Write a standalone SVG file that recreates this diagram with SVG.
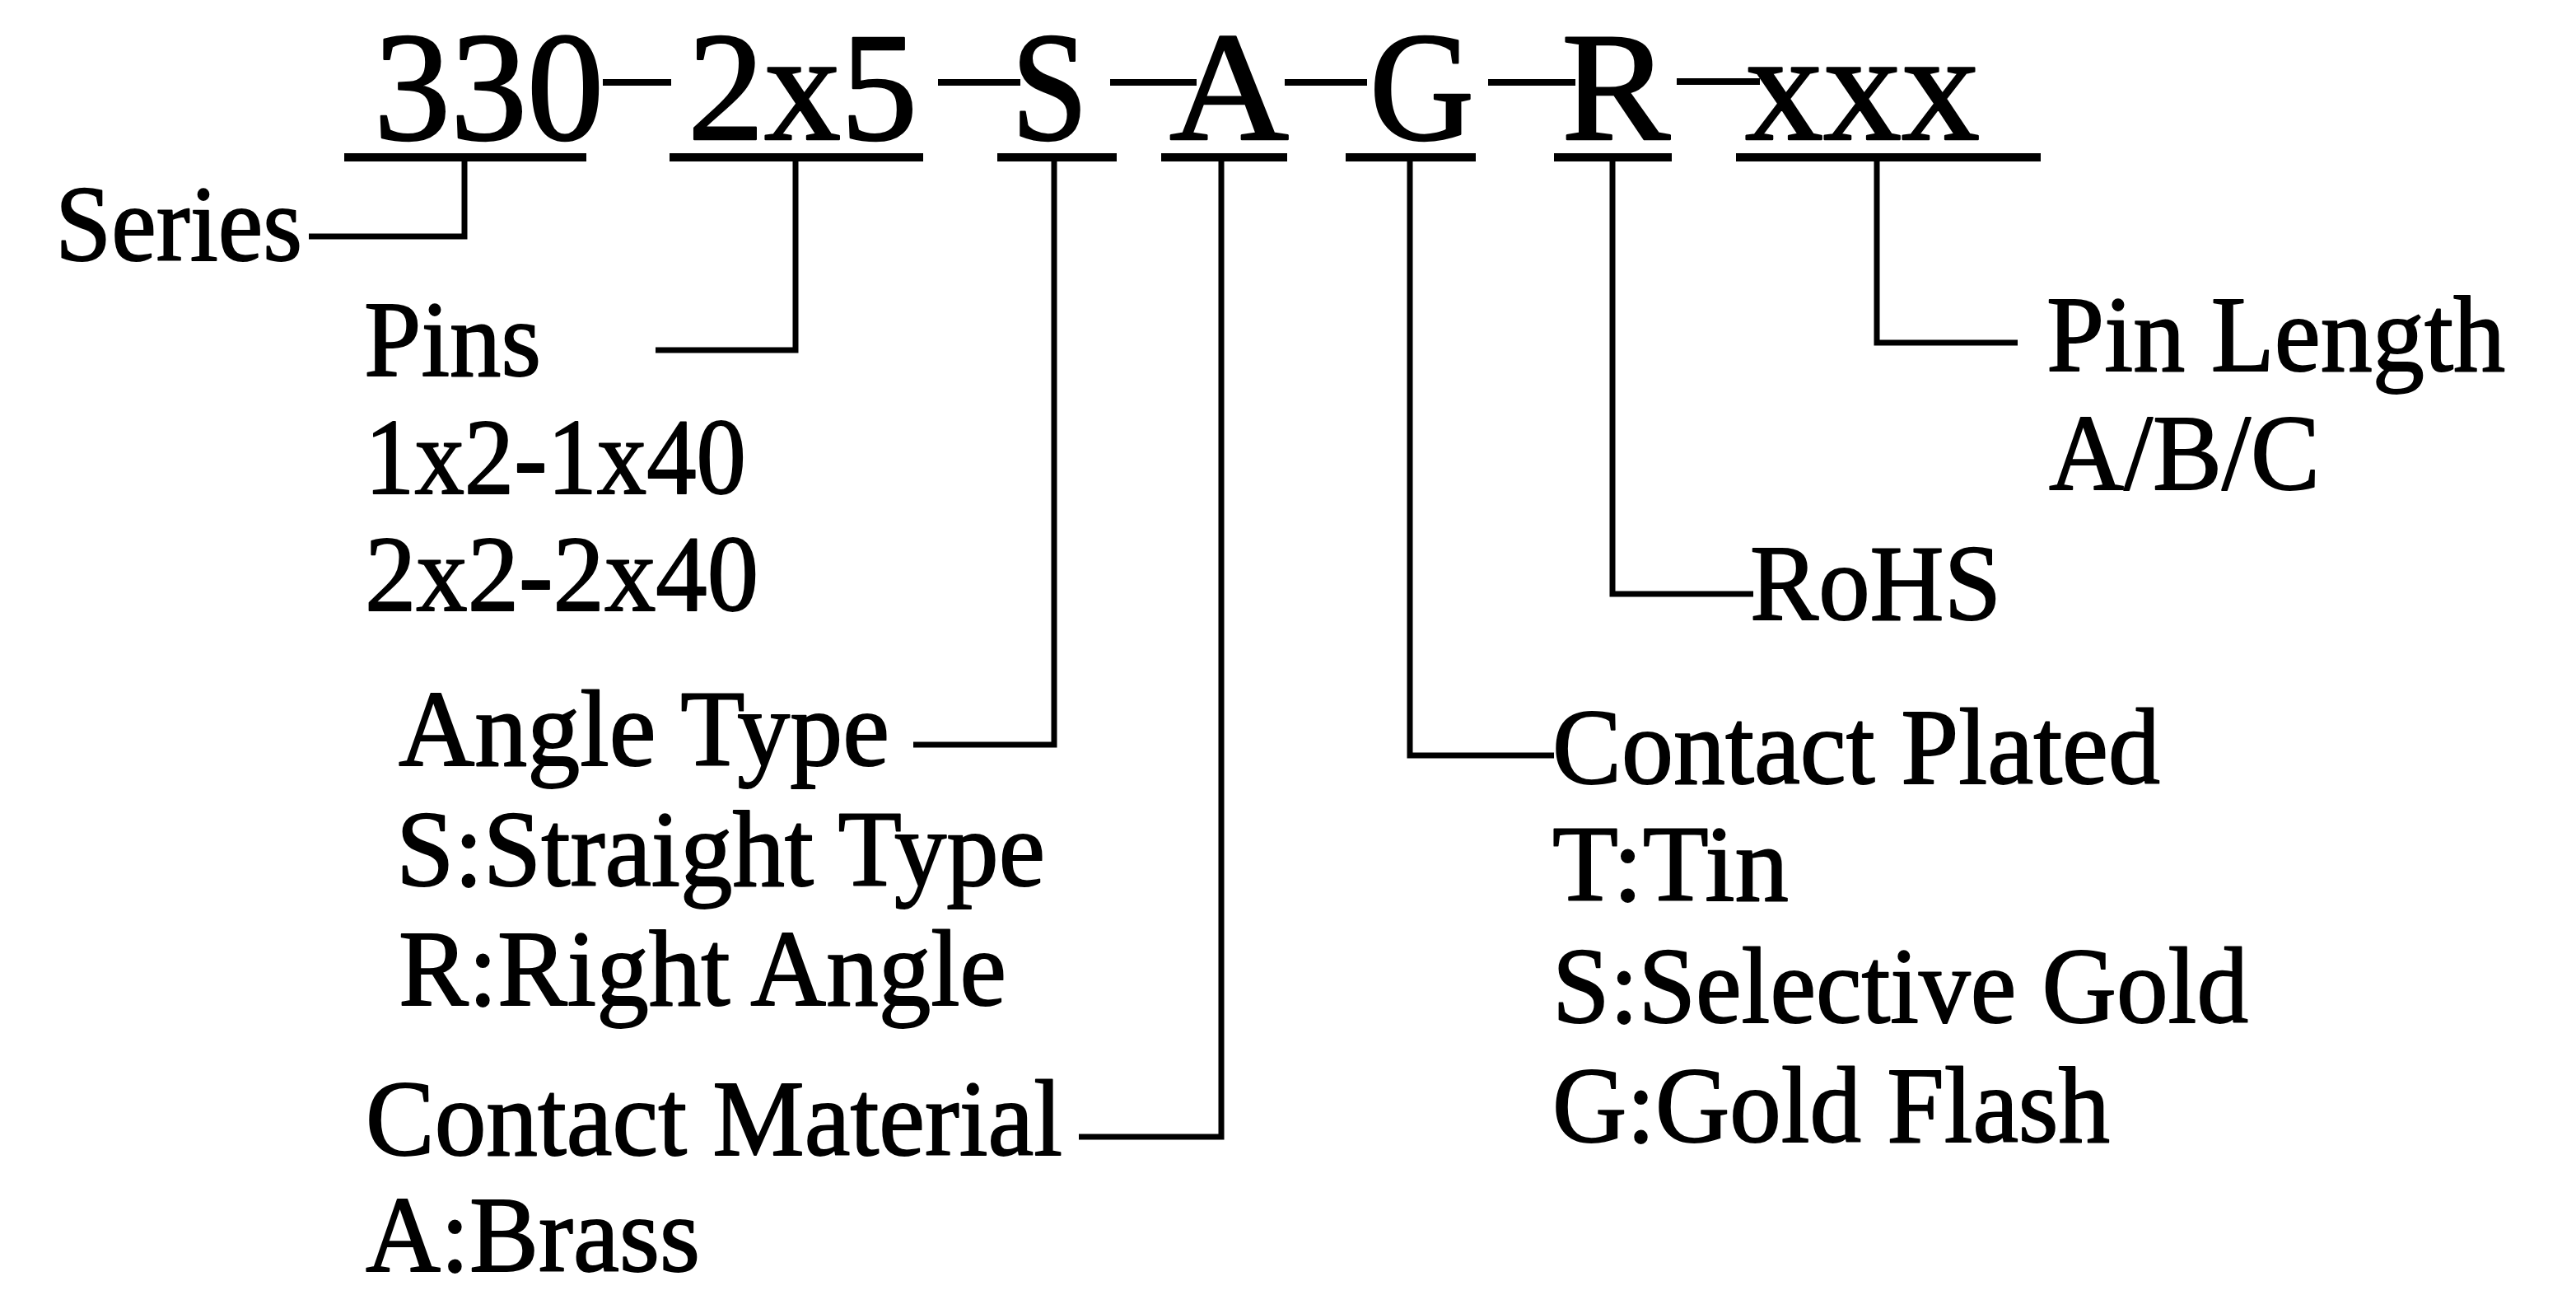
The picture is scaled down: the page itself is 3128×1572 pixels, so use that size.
<svg xmlns="http://www.w3.org/2000/svg" width="3128" height="1572" viewBox="0 0 3128 1572">
<style>
text{font-family:"Liberation Serif","Times New Roman",serif;fill:#000;stroke:#000;stroke-linejoin:round}
.code{font-size:189px;stroke-width:2.5}
.lbl{font-size:131px;stroke-width:1.8}
.ul{stroke:#000;stroke-width:10;fill:none}
.dash{stroke:#000;stroke-width:8;fill:none}
.con{stroke:#000;stroke-width:7;fill:none;stroke-linejoin:miter}
</style>
<rect width="3128" height="1572" fill="#fff"/>
<g id="code">
<g id="seg-330"><text class="code" x="454" y="169" textLength="279" lengthAdjust="spacingAndGlyphs">330</text><line class="ul" x1="418" y1="191" x2="712" y2="191"/></g>
<g id="seg-2x5"><text class="code" x="835" y="169" textLength="279" lengthAdjust="spacingAndGlyphs">2x5</text><line class="ul" x1="813" y1="191" x2="1121" y2="191"/></g>
<g id="seg-S"><text class="code" x="1228" y="169" textLength="93" lengthAdjust="spacingAndGlyphs">S</text><line class="ul" x1="1211" y1="191" x2="1356" y2="191"/></g>
<g id="seg-A"><text class="code" x="1420" y="169" textLength="145" lengthAdjust="spacingAndGlyphs">A</text><line class="ul" x1="1410" y1="191" x2="1563" y2="191"/></g>
<g id="seg-G"><text class="code" x="1663" y="169" textLength="127" lengthAdjust="spacingAndGlyphs">G</text><line class="ul" x1="1634" y1="191" x2="1792" y2="191"/></g>
<g id="seg-R"><text class="code" x="1896" y="169" textLength="132" lengthAdjust="spacingAndGlyphs">R</text><line class="ul" x1="1887" y1="191" x2="2030" y2="191"/></g>
<g id="seg-xxx"><text class="code" x="2119" y="169" textLength="285" lengthAdjust="spacingAndGlyphs">xxx</text><line class="ul" x1="2108" y1="191" x2="2478" y2="191"/></g>
<g id="dashes">
<line class="dash" x1="732" y1="100" x2="815" y2="100"/>
<line class="dash" x1="1139" y1="100" x2="1239" y2="100"/>
<line class="dash" x1="1348" y1="100" x2="1453" y2="100"/>
<line class="dash" x1="1560" y1="100" x2="1660" y2="100"/>
<line class="dash" x1="1807" y1="100" x2="1913" y2="100"/>
<line class="dash" x1="2036" y1="99" x2="2137" y2="99"/>
</g>
</g>
<g id="connectors">
<path class="con" d="M564,191 V287 H375"/>
<path class="con" d="M966,191 V425 H796"/>
<path class="con" d="M1280,191 V904 H1109"/>
<path class="con" d="M1483,191 V1380 H1310"/>
<path class="con" d="M1712,191 V917 H1887"/>
<path class="con" d="M1958,191 V721 H2129"/>
<path class="con" d="M2279,191 V416 H2450"/>
</g>
<g id="series"><text class="lbl" x="67" y="316" textLength="300" lengthAdjust="spacingAndGlyphs">Series</text></g>
<g id="pins">
<text class="lbl" x="442" y="456" textLength="215" lengthAdjust="spacingAndGlyphs">Pins</text>
<text class="lbl" x="443" y="599" textLength="463" lengthAdjust="spacingAndGlyphs">1x2-1x40</text>
<text class="lbl" x="443" y="741" textLength="478" lengthAdjust="spacingAndGlyphs">2x2-2x40</text>
</g>
<g id="angle-type">
<text class="lbl" x="484" y="929" textLength="596" lengthAdjust="spacingAndGlyphs">Angle Type</text>
<text class="lbl" x="481" y="1075" textLength="788" lengthAdjust="spacingAndGlyphs">S:Straight Type</text>
<text class="lbl" x="484" y="1220" textLength="738" lengthAdjust="spacingAndGlyphs">R:Right Angle</text>
</g>
<g id="contact-material">
<text class="lbl" x="444" y="1402" textLength="846" lengthAdjust="spacingAndGlyphs">Contact Material</text>
<text class="lbl" x="444" y="1543" textLength="406" lengthAdjust="spacingAndGlyphs">A:Brass</text>
</g>
<g id="contact-plated">
<text class="lbl" x="1885" y="951" textLength="738" lengthAdjust="spacingAndGlyphs">Contact Plated</text>
<text class="lbl" x="1885" y="1093" textLength="287" lengthAdjust="spacingAndGlyphs">T:Tin</text>
<text class="lbl" x="1885" y="1241" textLength="845" lengthAdjust="spacingAndGlyphs">S:Selective Gold</text>
<text class="lbl" x="1885" y="1386" textLength="677" lengthAdjust="spacingAndGlyphs">G:Gold Flash</text>
</g>
<g id="rohs"><text class="lbl" x="2125" y="752" textLength="305" lengthAdjust="spacingAndGlyphs">RoHS</text></g>
<g id="pin-length">
<text class="lbl" x="2485" y="450" textLength="557" lengthAdjust="spacingAndGlyphs">Pin Length</text>
<text class="lbl" x="2488" y="594" textLength="329" lengthAdjust="spacingAndGlyphs">A/B/C</text>
</g>
</svg>
